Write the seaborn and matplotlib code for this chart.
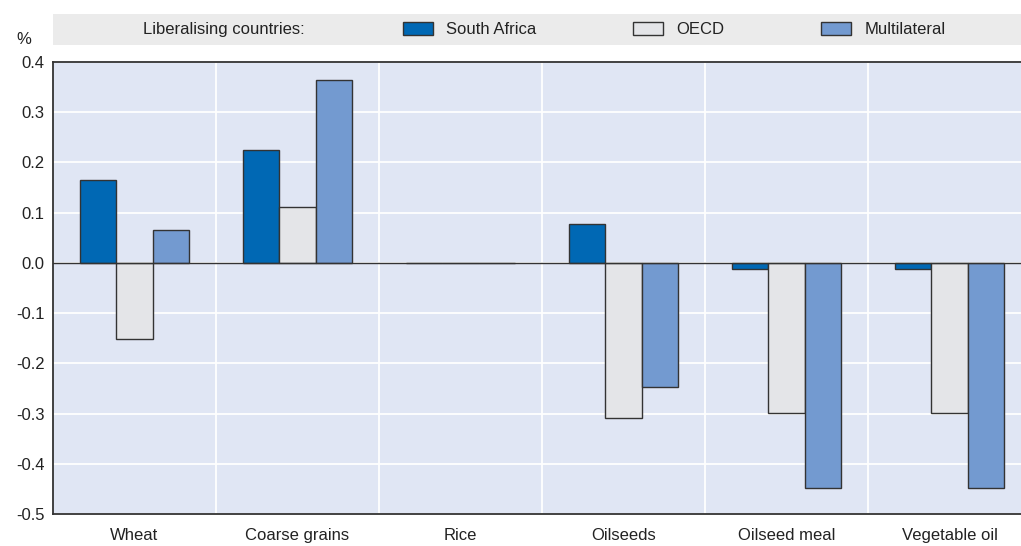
import matplotlib
matplotlib.use("Agg")
import matplotlib.pyplot as plt
import matplotlib.patches as mpatches
import seaborn as sns
import pandas as pd
from matplotlib import font_manager

categories = ["Wheat", "Coarse grains", "Rice", "Oilseeds", "Oilseed meal", "Vegetable oil"]
series = ["South Africa", "OECD", "Multilateral"]
south_africa = [0.166, 0.225, 0.0, 0.078, -0.012, -0.012]
oecd = [-0.151, 0.112, 0.0, -0.309, -0.299, -0.299]
multilateral = [0.066, 0.365, 0.0, -0.247, -0.448, -0.448]
yticks = [0.4, 0.3, 0.2, 0.1, 0.0, -0.1, -0.2, -0.3, -0.4, -0.5]

colors = ["#0068B4", "#E4E5E8", "#739AD0"]

sns.set_theme(style="white")
names = {f.name for f in font_manager.fontManager.ttflist}
fam = "Liberation Sans Narrow" if "Liberation Sans Narrow" in names else "Liberation Sans"
plt.rcParams["font.family"] = [fam, "DejaVu Sans"]

rows = []
for s, vals in zip(series, [south_africa, oecd, multilateral]):
    for c, v in zip(categories, vals):
        rows.append({"cat": c, "series": s, "value": v})
df = pd.DataFrame(rows)

W, H = 1021, 546
fig = plt.figure(figsize=(W / 100, H / 100), dpi=100)
ax = fig.add_axes([53 / W, 1 - 514 / H, 1 - 53 / W, (514 - 62) / H])
ax.set_facecolor("#E0E6F4")

sns.barplot(data=df, x="cat", y="value", hue="series", order=categories,
            hue_order=series, palette=colors, saturation=1, width=0.67,
            edgecolor="#333333", linewidth=1.0, ax=ax, legend=False, zorder=3)

ax.set_ylim(-0.5, 0.4)
ax.set_xlim(-0.5, -0.5 + (W - 53) / 163)
ax.set_yticks(yticks)
ax.set_yticklabels([f"{t:.1f}" for t in yticks], fontsize=12, color="#222222")
ax.set_xticks(range(len(categories)))
ax.set_xticklabels(categories, fontsize=12, color="#222222")
ax.set_xticks([i + 0.5 for i in range(len(categories) - 1)], minor=True)
ax.tick_params(axis="x", which="major", length=0, pad=10)
ax.tick_params(axis="x", which="minor", direction="in", length=5, color="#555555", width=1)
ax.tick_params(axis="y", which="major", direction="in", length=6, color="#555555", width=1, pad=6)
ax.set_xlabel("")
ax.set_ylabel("")
ax.grid(axis="y", which="major", color="white", linewidth=1.3, zorder=0)
ax.grid(axis="x", which="minor", color="white", linewidth=1.3, zorder=0)
ax.set_axisbelow(True)
ax.axhline(0, color="#333333", linewidth=1.0, zorder=4)
for side in ["left", "bottom", "top"]:
    ax.spines[side].set_color("#333333")
    ax.spines[side].set_linewidth(1.3)
ax.spines["right"].set_visible(False)

fig.text(16 / W, 1 - 40 / H, "%", fontsize=12, color="#222222", va="center", ha="left")

band = mpatches.Rectangle((53 / W, 1 - 45 / H), 1 - 53 / W, 31 / H, transform=fig.transFigure,
                          facecolor="#EBEBEB", edgecolor="none", zorder=0)
fig.patches.append(band)
fig.text(143 / W, 1 - 29.5 / H, "Liberalising countries:", fontsize=12, color="#222222",
         va="center", ha="left")
handles = [mpatches.Patch(facecolor=c, edgecolor="#333333", linewidth=1.0, label=s)
           for c, s in zip(colors, series)]
leg = fig.legend(handles=handles, ncol=3, loc="center left",
                 bbox_to_anchor=(403 / W, 1 - 29.5 / H), frameon=False, fontsize=12,
                 handlelength=1.8, handleheight=0.85, handletextpad=0.8, columnspacing=5.8,
                 borderaxespad=0, borderpad=0)
for t in leg.get_texts():
    t.set_color("#222222")

fig.savefig("out.png", dpi=100)
